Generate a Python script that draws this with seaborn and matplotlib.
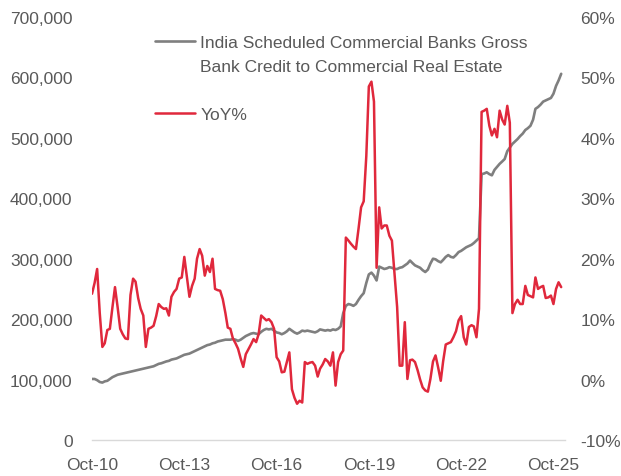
import matplotlib
matplotlib.use("Agg")
import matplotlib.pyplot as plt
import matplotlib.dates as mdates
from matplotlib.lines import Line2D
from matplotlib.ticker import FuncFormatter, FixedLocator
import seaborn as sns
import pandas as pd
import numpy as np

# ---- data (monthly, Oct-2010 onward) ----
start_month = "2010-10-01"
credit_k = [101, 101, 99, 96, 95, 97, 98, 101, 104, 106, 108, 109, 110, 111, 112, 113, 114, 115, 116, 117,
            118, 119, 120, 121, 122, 124, 126, 127, 128.5, 130, 131, 133, 134, 135, 137, 139, 141, 142, 143, 145,
            147, 149, 151, 153, 155, 157, 158, 160, 161, 163, 164, 165, 166, 166, 166, 167, 166, 164, 166, 169,
            172, 174, 176, 177, 176, 175, 179, 182, 184, 183, 184, 181, 178, 177, 175, 177, 180, 184, 181, 178,
            176, 178, 181, 180, 181, 180, 179, 178, 180, 183, 182, 181, 182, 181, 183, 182, 184, 188, 210, 222,
            225, 224, 222, 225, 232, 238, 243, 260, 274, 277, 272, 264, 287, 285, 283, 284, 286, 285, 283, 283,
            285, 286, 289, 292, 297, 293, 289, 287, 285, 281, 278, 282, 292, 300, 299, 296, 294, 298, 303, 306,
            303, 302, 306, 311, 313, 316, 319, 321, 323, 326, 330, 334, 440, 441, 443, 440, 438, 447, 452, 457,
            461, 465, 478, 484, 490, 494, 498, 503, 507, 513, 516, 520, 530, 548, 551, 555, 560, 562, 564, 566,
            573, 586, 595, 606]
yoy_pct = [14.2, 16, 18.3, 11, 5.4, 6, 8.2, 8.4, 12, 15.3, 12, 8.4, 7.5, 6.8, 6.7, 14, 16.7, 16.2, 13.5, 11.7,
           10.6, 5.4, 8.4, 8.6, 8.9, 10.5, 12.5, 12, 11.7, 11.8, 10.6, 13.7, 14.5, 15, 16.7, 16.9, 20.3, 17, 13.7, 15.5,
           16.7, 20, 21.6, 20.5, 17.2, 18.8, 17.8, 20, 15, 14.8, 14.7, 13.3, 11, 8.6, 8.4, 6.8, 6, 5.1, 3.5, 2.1,
           4.2, 5, 5.8, 6.7, 6.2, 7.5, 10.6, 10.2, 9.8, 10, 9.5, 8.4, 3.7, 3, 1.2, 1.3, 3, 4.5, -1.6, -3,
           -4, -3.5, -3.8, 2.9, 2.6, 2.8, 2.9, 2.3, 0.5, 1.8, 2.5, 3.4, 3, 2.3, 4.5, -1, 2.9, 4.2, 4.8, 23.5,
           23, 22.5, 22, 21.6, 25, 28.5, 29.5, 37, 48.5, 49.3, 46, 18.5, 28.5, 25, 25.5, 25.5, 23.8, 23, 17.5, 12,
           2.3, 2.3, 9.5, 0.1, 3.2, 3.3, 2.9, 1.6, 0, -1.3, -1.8, -2, 0.1, 3, 4, 2, -0.2, 3, 5.8, 6,
           6.2, 7, 8, 9.8, 10.5, 7, 5.8, 8.7, 9, 8.8, 7, 11.7, 44.3, 44.5, 44.8, 42, 40.4, 41.5, 40.1, 44.5,
           43, 42.2, 45.3, 42.5, 11, 12.5, 13.2, 12.5, 12.5, 15.5, 14, 13.8, 13.6, 16.9, 15, 15.3, 15.5, 13.5,
           13.6, 13.9, 12.5, 15, 16.1, 15.3]
tick_dates = ["2010-10-01", "2013-10-01", "2016-10-01", "2019-10-01", "2022-10-01", "2025-10-01"]
label_credit = "India Scheduled Commercial Banks Gross"
label_credit2 = "Bank Credit to Commercial Real Estate"
label_yoy = "YoY%"

dates = pd.date_range(start_month, periods=len(credit_k), freq="MS")
df = pd.DataFrame({"date": dates,
                   "credit": np.array(credit_k) * 1000.0,
                   "yoy": yoy_pct})

sns.set_theme(style="white")
plt.rcParams["font.family"] = ["Liberation Sans", "DejaVu Sans"]

GRAY = "#7f7f7f"
RED = "#e0283c"
TXT = "#595959"
FS = 12.5

fig = plt.figure(figsize=(6.21, 4.77), dpi=100)
ax = fig.add_axes([92 / 621, 36 / 477, (565 - 92) / 621, 423 / 477])
sns.lineplot(data=df, x="date", y="credit", ax=ax, color=GRAY, linewidth=1.9)
ax2 = ax.twinx()
sns.lineplot(data=df, x="date", y="yoy", ax=ax2, color=RED, linewidth=1.8)

x0 = pd.Timestamp(start_month)
x1 = x0 + pd.Timedelta(days=184.5 * 30.44)
ax.set_xlim(x0, x1)
ax.set_ylim(0, 700000)
ax2.set_ylim(-10, 60)
ax.set_yticks(np.arange(0, 700001, 100000))
ax2.set_yticks(np.arange(-10, 61, 10))
ax.yaxis.set_major_formatter(FuncFormatter(lambda v, p: f"{int(v):,}"))
ax2.yaxis.set_major_formatter(FuncFormatter(lambda v, p: f"{int(v)}%"))
ax.xaxis.set_major_locator(FixedLocator([mdates.date2num(pd.Timestamp(d)) for d in tick_dates]))
ax.xaxis.set_major_formatter(mdates.DateFormatter("%b-%y"))

for a in (ax, ax2):
    a.set_xlabel("")
    a.set_ylabel("")
    for s in a.spines.values():
        s.set_visible(False)
    a.grid(False)
ax.spines["bottom"].set_visible(True)
ax.spines["bottom"].set_color("#d9d9d9")
ax.spines["bottom"].set_linewidth(1.0)

ax.tick_params(axis="x", length=4, width=1, color="#d9d9d9", pad=8, labelsize=FS, labelcolor=TXT)
ax.tick_params(axis="y", length=0, pad=14, labelsize=FS, labelcolor=TXT)
ax2.tick_params(axis="y", length=0, pad=11, labelsize=FS, labelcolor=TXT)

handles = [Line2D([], [], color=GRAY, lw=1.9),
           Line2D([], [], color="none", lw=0),
           Line2D([], [], color="none", lw=0),
           Line2D([], [], color=RED, lw=1.8)]
labels = [label_credit, label_credit2, "", label_yoy]
leg = ax2.legend(handles, labels, loc="upper left", bbox_to_anchor=(155 / 621, 1 - 36 / 477),
                 bbox_transform=fig.transFigure, frameon=False, fontsize=FS,
                 handlelength=2.3, handletextpad=0.3, labelspacing=0.5, borderpad=0, borderaxespad=0)
for t in leg.get_texts():
    t.set_color(TXT)

fig.savefig("out.png", dpi=100)
